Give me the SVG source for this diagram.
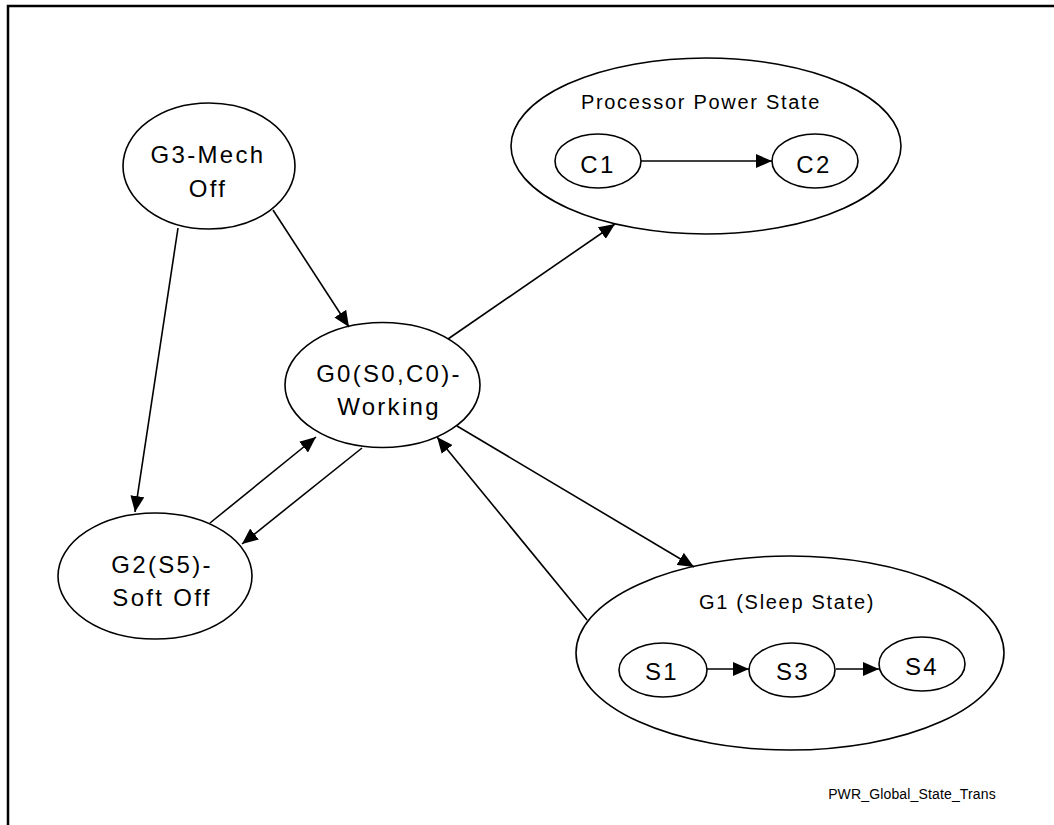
<svg xmlns="http://www.w3.org/2000/svg" width="1054" height="825" viewBox="0 0 1054 825">
<style>
.n{fill:#fff;stroke:#000;stroke-width:1.6}
.t{font-family:"Liberation Sans",Arial,sans-serif;font-size:24px;letter-spacing:2.3px;text-anchor:middle;fill:#000}
.h{font-family:"Liberation Sans",Arial,sans-serif;font-size:20px;letter-spacing:1.7px;text-anchor:middle;fill:#000}
.c{stroke:#000;stroke-width:1.6;fill:none;marker-end:url(#a)}
</style>
<defs>
<marker id="a" markerUnits="userSpaceOnUse" markerWidth="17" markerHeight="14" refX="16" refY="7" orient="auto">
<path d="M0,0 L16,7 L0,14 z" fill="#000"/>
</marker>
</defs>
<rect width="1054" height="825" fill="#fff"/>
<path d="M8,825 V6 H1054" fill="none" stroke="#000" stroke-width="2.5"/>
<g id="proc">
<ellipse class="n" cx="706" cy="146" rx="195" ry="88"/>
<text class="h" x="701" y="109">Processor Power State</text>
</g>
<g id="c1">
<ellipse class="n" cx="598" cy="161" rx="43" ry="27"/>
<text class="t" x="598" y="173">C1</text>
</g>
<g id="c2">
<ellipse class="n" cx="815" cy="161" rx="43" ry="27"/>
<text class="t" x="814" y="173">C2</text>
</g>
<g id="g3">
<ellipse class="n" cx="209" cy="166" rx="86" ry="63"/>
<text class="t" x="208" y="163">G3-Mech</text>
<text class="t" x="208" y="197">Off</text>
</g>
<g id="g0">
<ellipse class="n" cx="382.5" cy="385" rx="97.5" ry="62.5"/>
<text class="t" x="389" y="382">G0(S0,C0)-</text>
<text class="t" x="389" y="415">Working</text>
</g>
<g id="g2">
<ellipse class="n" cx="155" cy="576" rx="97" ry="63"/>
<text class="t" x="162" y="573">G2(S5)-</text>
<text class="t" x="162" y="606">Soft Off</text>
</g>
<g id="g1">
<ellipse class="n" cx="790" cy="653" rx="214" ry="97"/>
<text class="h" x="787" y="609">G1 (Sleep State)</text>
</g>
<g id="s1">
<ellipse class="n" cx="663" cy="670" rx="44" ry="27"/>
<text class="t" x="662" y="680">S1</text>
</g>
<g id="s3">
<ellipse class="n" cx="792" cy="670" rx="43" ry="27"/>
<text class="t" x="793" y="680">S3</text>
</g>
<g id="s4">
<ellipse class="n" cx="922" cy="664" rx="43" ry="27"/>
<text class="t" x="922" y="675">S4</text>
</g>
<g id="connectors">
<line class="c" x1="641" y1="161" x2="772" y2="161"/>
<line class="c" x1="707" y1="669" x2="749" y2="669"/>
<line class="c" x1="836" y1="669" x2="879" y2="669"/>
<line class="c" x1="178" y1="228" x2="135" y2="512"/>
<line class="c" x1="273" y1="210" x2="349" y2="327"/>
<line class="c" x1="448" y1="339" x2="615" y2="224"/>
<line class="c" x1="457" y1="426" x2="694" y2="567"/>
<line class="c" x1="587" y1="620" x2="437" y2="437"/>
<line class="c" x1="210" y1="523" x2="316" y2="437"/>
<line class="c" x1="362" y1="448" x2="242" y2="544"/>
</g>
<text x="912" y="799" font-family="'Liberation Sans',Arial,sans-serif" font-size="14" letter-spacing="0.15" text-anchor="middle">PWR_Global_State_Trans</text>
</svg>
